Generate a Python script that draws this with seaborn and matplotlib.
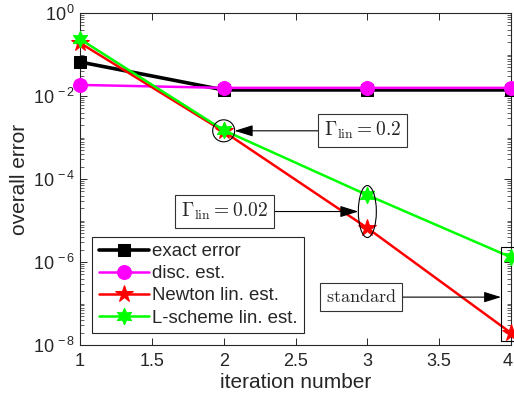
import numpy as np
import pandas as pd
import seaborn as sns
import matplotlib
matplotlib.use("Agg")
import matplotlib.pyplot as plt
import matplotlib.transforms as mtransforms
from matplotlib.patches import Ellipse, Rectangle
from matplotlib.ticker import FixedLocator, LogLocator, NullFormatter, FixedFormatter

# ---- data ----
iterations = [1, 2, 3, 4]
exact_error = [0.066, 0.0140, 0.0140, 0.0140]
disc_est = [0.0185, 0.0157, 0.0157, 0.0157]
newton_lin_est = [0.19, 1.40e-3, 6.6e-6, 1.95e-8]
lscheme_lin_est = [0.235, 1.50e-3, 4.1e-5, 1.3e-6]
series_names = ["exact error", "disc. est.", "Newton lin. est.", "L-scheme lin. est."]
x_ticks = [1, 1.5, 2, 2.5, 3, 3.5, 4]
x_tick_labels = ["1", "1.5", "2", "2.5", "3", "3.5", "4"]
y_ticks = [1e0, 1e-2, 1e-4, 1e-6, 1e-8]
y_tick_labels = [r"$10^{\,0}$", r"$10^{\,-2}$", r"$10^{\,-4}$", r"$10^{\,-6}$", r"$10^{\,-8}$"]

sns.set_style("ticks")
plt.rcParams["font.family"] = ["Liberation Sans", "DejaVu Sans"]
plt.rcParams["mathtext.fontset"] = "custom"
plt.rcParams["mathtext.rm"] = "Liberation Sans"
plt.rcParams["mathtext.it"] = "Liberation Sans:italic"
plt.rcParams["mathtext.bf"] = "Liberation Sans:bold"

fig = plt.figure(figsize=(5.14, 4.03), dpi=100)
W, H = 431, 332  # axes size in pixels
ax = fig.add_axes([80 / 514, 1 - 345 / 403, W / 514, H / 403])

styles = [
    dict(color="black", marker="s", markersize=8, linewidth=2.6),
    dict(color="#ff00ff", marker="o", markersize=10, linewidth=1.8),
    dict(color="#ff0000", marker="*", markersize=13, linewidth=1.8),
    dict(color="#00ff00", marker=(6, 1, 0), markersize=12, linewidth=1.8),
]
values = [exact_error, disc_est, newton_lin_est, lscheme_lin_est]
for name, vals, st in zip(series_names, values, styles):
    df = pd.DataFrame({"iteration": iterations, "error": vals})
    sns.lineplot(data=df, x="iteration", y="error", ax=ax, label=name,
                 color=st["color"], marker=st["marker"], markersize=st["markersize"],
                 linewidth=st["linewidth"], markeredgecolor=st["color"],
                 markerfacecolor=st["color"], clip_on=False, zorder=3)

ax.set_yscale("log")
ax.set_xlim(1, 4)
ax.set_ylim(1e-8, 1)
ax.xaxis.set_major_locator(FixedLocator(x_ticks))
ax.xaxis.set_major_formatter(FixedFormatter(x_tick_labels))
ax.yaxis.set_major_locator(FixedLocator(y_ticks))
ax.yaxis.set_major_formatter(FixedFormatter(y_tick_labels))
ax.yaxis.set_minor_locator(LogLocator(base=10, subs=np.arange(1, 10), numticks=100))
ax.yaxis.set_minor_formatter(NullFormatter())
ax.tick_params(axis="both", which="both", direction="in", top=True, right=True,
               labelsize=13, colors="#262626")
ax.tick_params(axis="x", which="major", pad=6)
ax.tick_params(which="major", length=5, width=0.7)
ax.tick_params(which="minor", length=3, width=0.5)
for s in ax.spines.values():
    s.set_linewidth(0.8)
    s.set_color("#262626")
ax.set_xlabel("iteration number", fontsize=15, color="#262626", labelpad=2)
ax.set_ylabel("overall error", fontsize=15, color="#262626", labelpad=3)

leg = ax.legend(loc="lower left", bbox_to_anchor=(0.028, 0.036), borderaxespad=0,
                fontsize=13.4, frameon=True, fancybox=False, framealpha=1,
                edgecolor="#262626", handlelength=2.7, labelspacing=0.27,
                handletextpad=0.15, borderpad=0.35)
leg.get_frame().set_linewidth(0.8)

# keep the last x tick label inside the canvas
fig.canvas.draw()
last_lbl = ax.get_xticklabels()[-1]
last_lbl.set_transform(last_lbl.get_transform() +
                       mtransforms.ScaledTranslation(-3 / 100, 0, fig.dpi_scale_trans))

# ---- annotations (positions derived from data points in axes fraction) ----
to_ax = lambda x, y: ax.transAxes.inverted().transform(ax.transData.transform((x, y)))

c2 = to_ax(2, np.sqrt(newton_lin_est[1] * lscheme_lin_est[1]))
ax.add_patch(Ellipse(c2, 22 / W, 22 / H, transform=ax.transAxes, fill=False,
                     ec="black", lw=0.8, zorder=5))
c3 = to_ax(3, np.sqrt(newton_lin_est[2] * lscheme_lin_est[2]))
ax.add_patch(Ellipse(c3, 18 / W, 52 / H, transform=ax.transAxes, fill=False,
                     ec="black", lw=0.8, zorder=5))
r_top = to_ax(4, lscheme_lin_est[3])
r_bot = to_ax(4, newton_lin_est[3])
ax.add_patch(Rectangle((r_top[0] - 10 / W, r_bot[1] - 8 / H), 20 / W,
                       (r_top[1] - r_bot[1]) + 18 / H, transform=ax.transAxes,
                       fill=False, ec="black", lw=0.8, zorder=5, clip_on=False))

bbox = dict(boxstyle="square,pad=0.3", fc="white", ec="#333333", lw=0.8)
arrow = dict(arrowstyle="-|>,head_length=0.8,head_width=0.25", color="black", lw=0.8,
             shrinkA=0, shrinkB=0)
ax.annotate(r"$\Gamma_{\rm lin} = 0.2$", xy=(c2[0] + 11 / W, c2[1]),
            xytext=(c2[0] + 139 / W, c2[1]), xycoords="axes fraction",
            textcoords="axes fraction", ha="center", va="center", fontsize=14,
            math_fontfamily="cm", bbox=bbox, arrowprops=arrow, zorder=6)
ax.annotate(r"$\Gamma_{\rm lin} = 0.02$", xy=(c3[0] - 9 / W, c3[1]),
            xytext=(c3[0] - 143 / W, c3[1]), xycoords="axes fraction",
            textcoords="axes fraction", ha="center", va="center", fontsize=14,
            math_fontfamily="cm", bbox=bbox, arrowprops=arrow, zorder=6)
ax.annotate(r"$\mathrm{standard}$", xy=(r_top[0] - 10 / W, (r_top[1] + r_bot[1]) / 2 - 2 / H),
            xytext=(r_top[0] - 150 / W, (r_top[1] + r_bot[1]) / 2 - 2 / H),
            xycoords="axes fraction", textcoords="axes fraction", ha="center",
            va="center", fontsize=13, math_fontfamily="cm", bbox=bbox,
            arrowprops=arrow, zorder=6)

fig.savefig("out.png", dpi=100)
